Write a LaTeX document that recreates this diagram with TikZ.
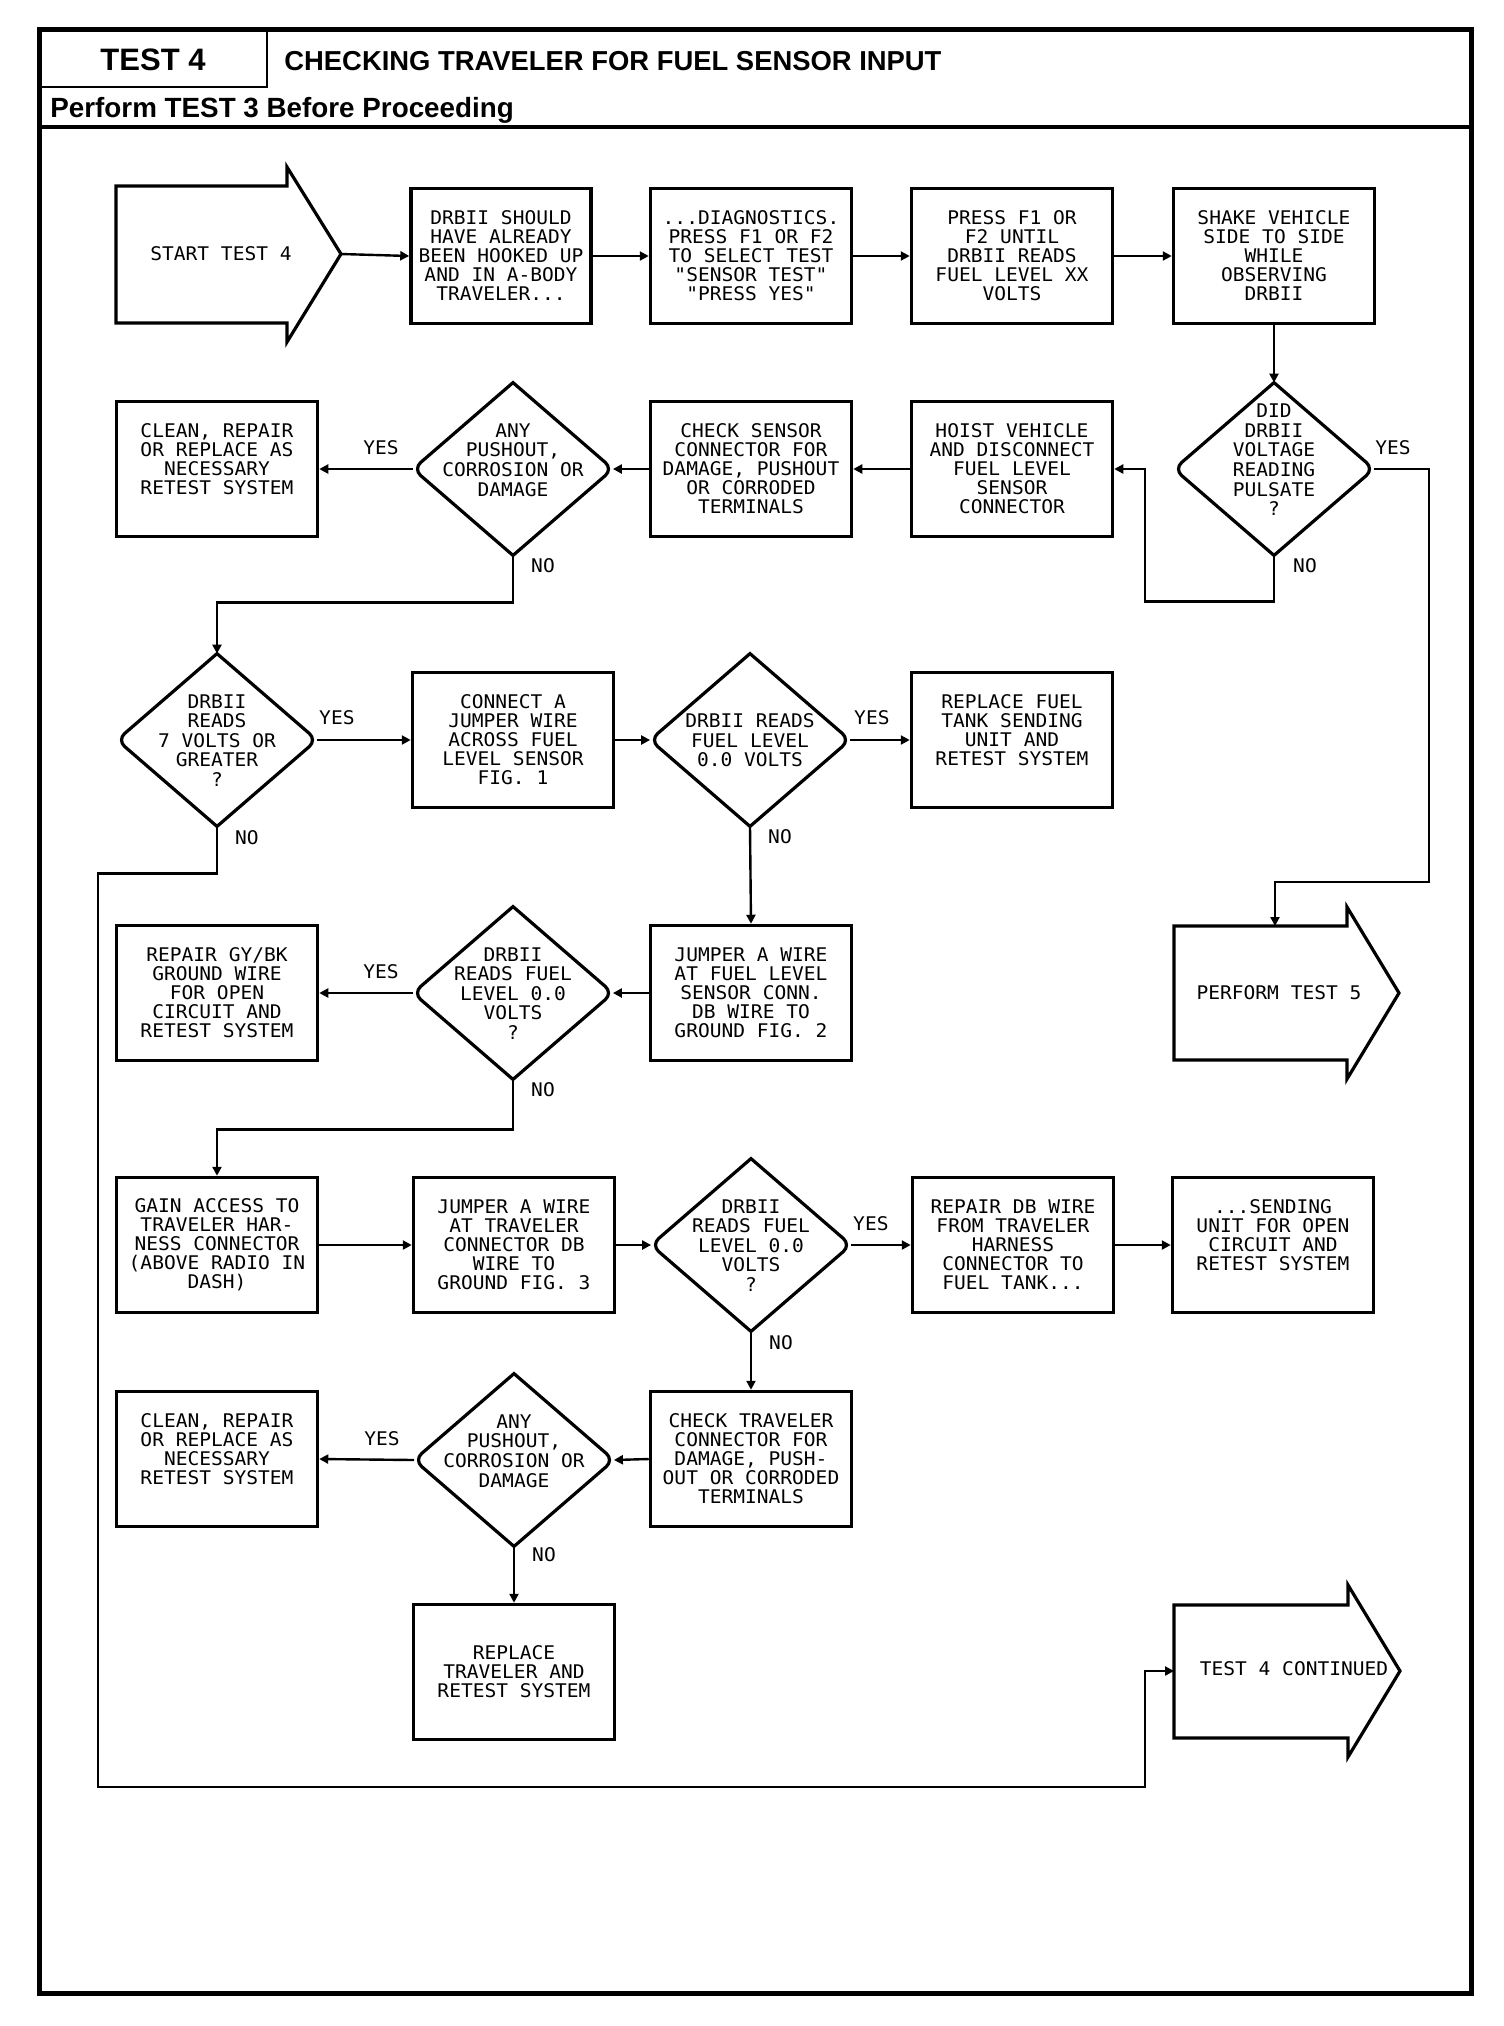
\documentclass[tikz,border=0pt]{standalone}
\usepackage{fontspec}
\setmainfont{Liberation Sans}
\newfontfamily\plotfont[FakeStretch=1.04]{DejaVu Sans Mono}
\usepackage{tikz}
\usetikzlibrary{shapes.geometric,arrows.meta}
\newcommand{\plottxt}{\plotfont\fontsize{9.4}{9.5}\selectfont}
\newcommand{\dtexte}[1]{\makebox[0pt]{\smash{\raisebox{-3.9pt}{\begin{tabular}{@{}c@{}}#1\end{tabular}}}}}
\tikzset{
  boite/.style={draw, line width=1.75pt, rectangle, minimum width=100.5pt, minimum height=67.5pt, inner sep=0pt, align=center},
  losange/.style={diamond, aspect=1.16, minimum width=99.5pt, minimum height=86pt, inner sep=0pt},
  contour/.style={line width=1.6pt},
  fleche/.style={-{Triangle[length=4.5pt,width=4.5pt]}, line width=1.2pt},
  etiq/.style={inner sep=0pt}
}

\begin{document}
\begin{tikzpicture}[x=0.5pt, y=-0.5pt, font=\plottxt]

\useasboundingbox (0,0) rectangle (1504,2026);

\draw[line width=2.5pt] (39,29) rectangle (1471,1993);
\draw[line width=1.2pt] (267,29) -- (267,87) -- (39,87);
\draw[line width=2pt] (39,127) -- (1471,127);
\node[anchor=base, inner sep=0pt, font=\bfseries\fontsize{15.5}{16}\selectfont] (numtest) at (153,70) {TEST 4};
\node[anchor=base west, inner sep=0pt, font=\bfseries\fontsize{13.7}{14}\selectfont] (titre) at (284,70) {CHECKING TRAVELER FOR FUEL SENSOR INPUT};
\node[anchor=base west, inner sep=0pt, font=\bfseries\fontsize{13.9}{14}\selectfont] (prereq) at (50,117) {Perform TEST 3 Before Proceeding};

\draw[contour] (116,186) -- (287,186) -- (287,167) -- (341,254) -- (287,342) -- (287,323) -- (116,323) -- cycle;
\node[etiq] (startt) at (221,254) {START TEST 4};
\coordinate (starttip) at (341,254);

\node[boite, minimum width=90pt] (b1) at (501,256) {DRBII SHOULD\\HAVE ALREADY\\BEEN HOOKED UP\\AND IN A-BODY\\TRAVELER...};
\node[boite] (b2) at (751,256) {...DIAGNOSTICS.\\PRESS F1 OR F2\\TO SELECT TEST\\"SENSOR TEST"\\"PRESS YES"};
\node[boite] (b3) at (1012,256) {PRESS F1 OR\\F2 UNTIL\\DRBII READS\\FUEL LEVEL XX\\VOLTS};
\node[boite] (b4) at (1274,256) {SHAKE VEHICLE\\SIDE TO SIDE\\WHILE\\OBSERVING\\DRBII};

\node[boite] (clean1) at (217,469) {CLEAN, REPAIR\\OR REPLACE AS\\NECESSARY\\RETEST SYSTEM\\\mbox{}};
\node[losange] (dany1) at (513,469) {\dtexte{ANY\\PUSHOUT,\\CORROSION OR\\DAMAGE\\\mbox{}}};
\node[boite] (chksens) at (751,469) {CHECK SENSOR\\CONNECTOR FOR\\DAMAGE, PUSHOUT\\OR CORRODED\\TERMINALS};
\node[boite] (hoist) at (1012,469) {HOIST VEHICLE\\AND DISCONNECT\\FUEL LEVEL\\SENSOR\\CONNECTOR};
\node[losange] (ddid) at (1274,469) {\dtexte{DID\\DRBII\\VOLTAGE\\READING\\PULSATE\\?\\\mbox{}}};

\node[losange] (d7v) at (217,740) {\dtexte{DRBII\\READS\\7 VOLTS OR\\GREATER\\?}};
\node[boite] (connect) at (513,740) {CONNECT A\\JUMPER WIRE\\ACROSS FUEL\\LEVEL SENSOR\\FIG. 1};
\node[losange] (d00a) at (750,740) {\dtexte{DRBII READS\\FUEL LEVEL\\0.0 VOLTS}};
\node[boite] (replfuel) at (1012,740) {REPLACE FUEL\\TANK SENDING\\UNIT AND\\RETEST SYSTEM\\\mbox{}};

\node[boite] (repgy) at (217,993) {REPAIR GY/BK\\GROUND WIRE\\FOR OPEN\\CIRCUIT AND\\RETEST SYSTEM};
\node[losange] (d00b) at (513,993) {\dtexte{DRBII\\READS FUEL\\LEVEL 0.0\\VOLTS\\?}};
\node[boite] (jump1) at (751,993) {JUMPER A WIRE\\AT FUEL LEVEL\\SENSOR CONN.\\DB WIRE TO\\GROUND FIG. 2};

\draw[contour] (1174,926) -- (1347,926) -- (1347,907) -- (1399,993) -- (1347,1079) -- (1347,1060) -- (1174,1060) -- cycle;
\node[etiq] (perft) at (1279,993) {PERFORM TEST 5};
\coordinate (perftop) at (1275,926);

\node[boite] (gain) at (217,1245) {GAIN ACCESS TO\\TRAVELER HAR-\\NESS CONNECTOR\\(ABOVE RADIO IN\\DASH)};
\node[boite] (jump2) at (514,1245) {JUMPER A WIRE\\AT TRAVELER\\CONNECTOR DB\\WIRE TO\\GROUND FIG. 3};
\node[losange] (d00c) at (751,1245) {\dtexte{DRBII\\READS FUEL\\LEVEL 0.0\\VOLTS\\?}};
\node[boite] (repdb) at (1013,1245) {REPAIR DB WIRE\\FROM TRAVELER\\HARNESS\\CONNECTOR TO\\FUEL TANK...};
\node[boite] (sending) at (1273,1245) {...SENDING\\UNIT FOR OPEN\\CIRCUIT AND\\RETEST SYSTEM\\\mbox{}};

\node[boite] (clean2) at (217,1459) {CLEAN, REPAIR\\OR REPLACE AS\\NECESSARY\\RETEST SYSTEM\\\mbox{}};
\node[losange] (dany2) at (514,1460) {\dtexte{ANY\\PUSHOUT,\\CORROSION OR\\DAMAGE\\\mbox{}}};
\node[boite] (chktrav) at (751,1459) {CHECK TRAVELER\\CONNECTOR FOR\\DAMAGE, PUSH-\\OUT OR CORRODED\\TERMINALS};

\node[boite] (repltrav) at (514,1672) {REPLACE\\TRAVELER AND\\RETEST SYSTEM};

\draw[contour] (1174,1605) -- (1348,1605) -- (1348,1585) -- (1400,1671) -- (1348,1757) -- (1348,1738) -- (1174,1738) -- cycle;
\node[etiq] (contt) at (1294,1669) {TEST 4 CONTINUED};
\coordinate (conttail) at (1174,1671);

\draw[contour] (dany1.north) [rounded corners=5pt] -- (dany1.west) [sharp corners] -- (dany1.south) [rounded corners=5pt] -- (dany1.east) [sharp corners] -- (dany1.north) -- cycle;
\draw[contour] (ddid.north) [rounded corners=5pt] -- (ddid.west) [sharp corners] -- (ddid.south) [rounded corners=5pt] -- (ddid.east) [sharp corners] -- (ddid.north) -- cycle;
\draw[contour] (d7v.north) [rounded corners=5pt] -- (d7v.west) [sharp corners] -- (d7v.south) [rounded corners=5pt] -- (d7v.east) [sharp corners] -- (d7v.north) -- cycle;
\draw[contour] (d00a.north) [rounded corners=5pt] -- (d00a.west) [sharp corners] -- (d00a.south) [rounded corners=5pt] -- (d00a.east) [sharp corners] -- (d00a.north) -- cycle;
\draw[contour] (d00b.north) [rounded corners=5pt] -- (d00b.west) [sharp corners] -- (d00b.south) [rounded corners=5pt] -- (d00b.east) [sharp corners] -- (d00b.north) -- cycle;
\draw[contour] (d00c.north) [rounded corners=5pt] -- (d00c.west) [sharp corners] -- (d00c.south) [rounded corners=5pt] -- (d00c.east) [sharp corners] -- (d00c.north) -- cycle;
\draw[contour] (dany2.north) [rounded corners=5pt] -- (dany2.west) [sharp corners] -- (dany2.south) [rounded corners=5pt] -- (dany2.east) [sharp corners] -- (dany2.north) -- cycle;

\draw[fleche] (starttip) -- (b1.west);
\draw[fleche] (b1.east) -- (b2.west);
\draw[fleche] (b2.east) -- (b3.west);
\draw[fleche] (b3.east) -- (b4.west);
\draw[fleche] (b4.south) -- (ddid.north);
\draw[fleche] (ddid.south) -- ++(0,46) -| ([xshift=15.5pt]hoist.east) -- (hoist.east);
\draw[fleche] (ddid.east) -| (1429,882) -| (perftop);
\draw[fleche] (hoist.west) -- (chksens.east);
\draw[fleche] (chksens.west) -- (dany1.east);
\draw[fleche] (dany1.west) -- (clean1.east);
\draw[fleche] (dany1.south) -- ++(0,47) -| (d7v.north);
\draw[fleche] (d7v.east) -- (connect.west);
\draw[fleche] (connect.east) -- (d00a.west);
\draw[fleche] (d00a.east) -- (replfuel.west);
\draw[fleche] (d00a.south) -- (jump1.north);
\draw[fleche] (jump1.west) -- (d00b.east);
\draw[fleche] (d00b.west) -- (repgy.east);
\draw[fleche] (d00b.south) -- ++(0,50) -| (gain.north);
\draw[fleche] (gain.east) -- (jump2.west);
\draw[fleche] (jump2.east) -- (d00c.west);
\draw[fleche] (d00c.east) -- (repdb.west);
\draw[fleche] (repdb.east) -- (sending.west);
\draw[fleche] (d00c.south) -- (chktrav.north);
\draw[fleche] (chktrav.west) -- (dany2.east);
\draw[fleche] (dany2.west) -- (clean2.east);
\draw[fleche] (dany2.south) -- (repltrav.north);
\draw[fleche] (d7v.south) -- ++(0,47) -| (98,1787) -| (1145,1671) -- (conttail);

\node[etiq] (oui1) at ([xshift=-16pt,yshift=10.5pt]dany1.west) {YES};
\node[etiq] (non1) at ([xshift=15pt,yshift=-5pt]dany1.south) {NO};
\node[etiq] (oui2) at ([xshift=9.5pt,yshift=10.5pt]ddid.east) {YES};
\node[etiq] (non2) at ([xshift=15.5pt,yshift=-5pt]ddid.south) {NO};
\node[etiq] (oui3) at ([xshift=10pt,yshift=11pt]d7v.east) {YES};
\node[etiq] (non3) at ([xshift=15pt,yshift=-5.5pt]d7v.south) {NO};
\node[etiq] (oui4) at ([xshift=11pt,yshift=11pt]d00a.east) {YES};
\node[etiq] (non4) at ([xshift=15pt,yshift=-5pt]d00a.south) {NO};
\node[etiq] (oui5) at ([xshift=-16pt,yshift=10.5pt]d00b.west) {YES};
\node[etiq] (non5) at ([xshift=15pt,yshift=-5pt]d00b.south) {NO};
\node[etiq] (oui6) at ([xshift=10pt,yshift=10.5pt]d00c.east) {YES};
\node[etiq] (non6) at ([xshift=15pt,yshift=-5.5pt]d00c.south) {NO};
\node[etiq] (oui7) at ([xshift=-16pt,yshift=10.5pt]dany2.west) {YES};
\node[etiq] (non7) at ([xshift=15pt,yshift=-4pt]dany2.south) {NO};

\end{tikzpicture}
\end{document}
